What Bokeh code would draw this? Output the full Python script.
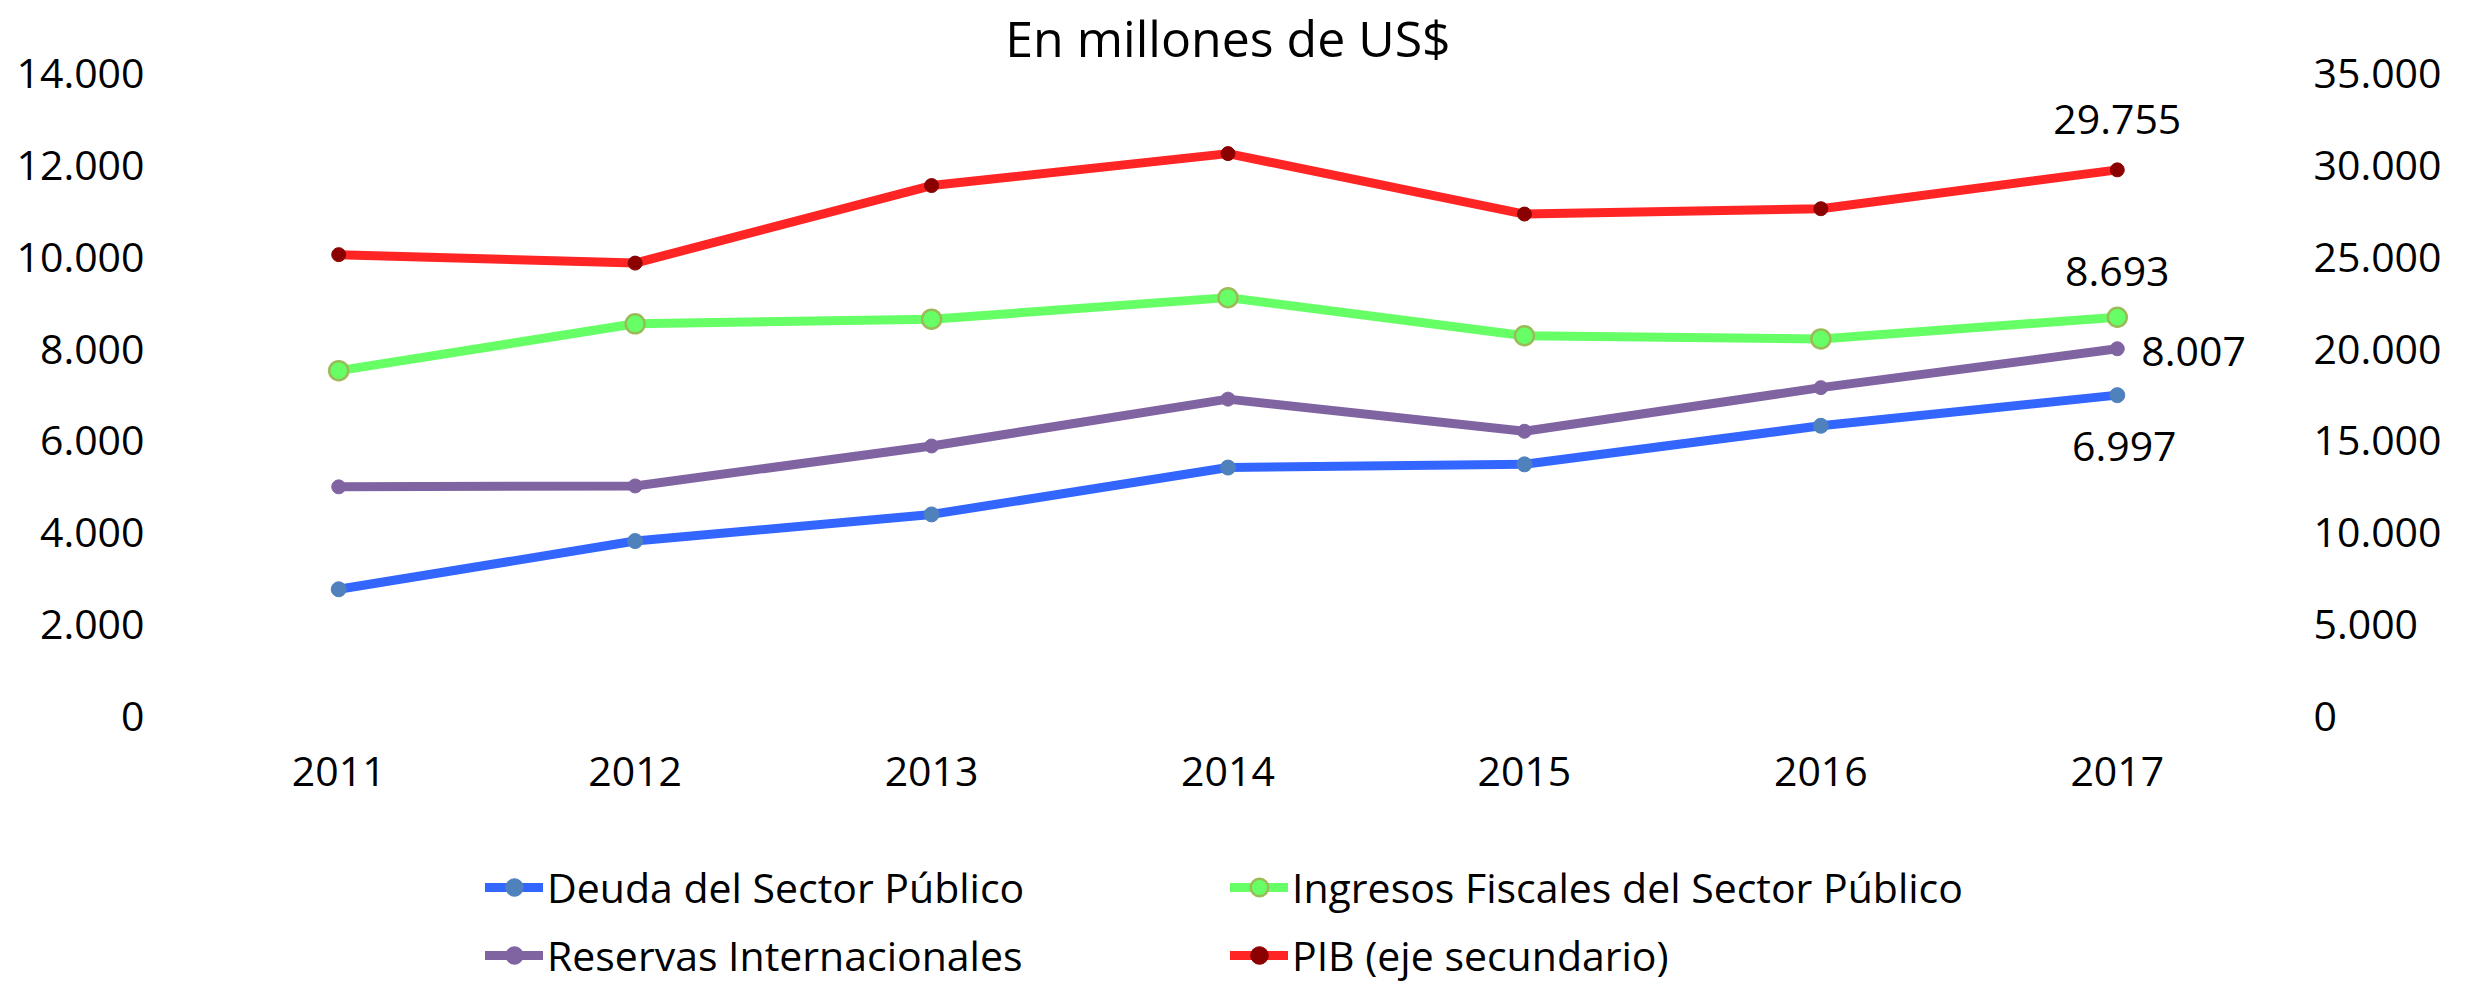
from bokeh.plotting import figure
from bokeh.layouts import column
from bokeh.models import (Range1d, LinearAxis, FixedTicker, CustomJSTickFormatter,
                          Legend, LegendItem, ColumnDataSource)
from bokeh.core.properties import value
from bokeh.embed import file_html
from bokeh.resources import INLINE

years = ["2011", "2012", "2013", "2014", "2015", "2016", "2017"]
deuda = [2770, 3820, 4400, 5420, 5490, 6330, 6997]
ingresos = [7530, 8550, 8650, 9120, 8290, 8220, 8693]
reservas = [5000, 5020, 5890, 6910, 6210, 7160, 8007]
pib = [25140, 24680, 28900, 30640, 27350, 27640, 29755]
left_ticks = [0, 2000, 4000, 6000, 8000, 10000, 12000, 14000]
right_ticks = [0, 5000, 10000, 15000, 20000, 25000, 30000, 35000]
names = ["Deuda del Sector Público", "Ingresos Fiscales del Sector Público",
         "Reservas Internacionales", "PIB (eje secundario)"]
title_text = "En millones de US$"

FONT = "Open Sans"
FS = "41px"
W = 2468
H1 = 830
H2 = 984 - H1

p = figure(x_range=years, y_range=Range1d(0, 14000), width=W, height=H1,
           output_backend="svg", toolbar_location=None,
           min_border_left=190, min_border_right=203, min_border_top=73,
           min_border_bottom=H1 - 716)
p.extra_y_ranges = {"y2": Range1d(0, 35000)}
p.outline_line_color = None
p.xgrid.grid_line_color = None
p.ygrid.grid_line_color = None
p.x_range.range_padding = 0

p.title.text = title_text
p.title.align = "center"
p.title.text_font = FONT
p.title.text_font_size = "50px"
p.title.text_font_style = "normal"
p.title.text_color = "black"
p.title.standoff = 3

fmt = CustomJSTickFormatter(code="return tick.toFixed(0).replace(/\\B(?=(\\d{3})+(?!\\d))/g, '.');")

p.yaxis[0].ticker = FixedTicker(ticks=left_ticks)
p.yaxis[0].formatter = fmt
p.yaxis[0].major_label_standoff = 46

ax2 = LinearAxis(y_range_name="y2", ticker=FixedTicker(ticks=right_ticks), formatter=fmt,
                 major_label_standoff=48)
p.add_layout(ax2, "right")

for ax in [p.xaxis[0], p.yaxis[0], ax2]:
    ax.axis_line_color = None
    ax.major_tick_line_color = None
    ax.minor_tick_line_color = None
    ax.major_tick_in = 0
    ax.major_tick_out = 0
    ax.minor_tick_in = 0
    ax.minor_tick_out = 0
    ax.major_label_text_font = FONT
    ax.major_label_text_font_size = FS
    ax.major_label_text_color = "black"
p.xaxis.major_label_standoff = 40

src = ColumnDataSource(dict(x=years, deuda=deuda, ingresos=ingresos, reservas=reservas, pib=pib))

LW = 9
styles = {
    "pib": dict(line="#ff2525", fill="#8b0000", outline="#8b0000", size=14, olw=1),
    "ingresos": dict(line="#66ff66", fill="#66ff66", outline="#9bbb59", size=19, olw=2.5),
    "reservas": dict(line="#8064a2", fill="#8064a2", outline="#8064a2", size=14, olw=1),
    "deuda": dict(line="#3366ff", fill="#4f81bd", outline="#4f81bd", size=15, olw=1),
}

for key in ["pib", "ingresos", "reservas", "deuda"]:
    st = styles[key]
    rng = "y2" if key == "pib" else "default"
    p.line("x", key, source=src, y_range_name=rng, line_color=st["line"], line_width=LW,
           line_join="round", line_cap="round")
    p.scatter("x", key, source=src, y_range_name=rng, size=st["size"], fill_color=st["fill"],
              line_color=st["outline"], line_width=st["olw"])

def th(v):
    return f"{v:,}".replace(",", ".")

def add_lab(series, align, dx, dy, rng="default"):
    s = ColumnDataSource(dict(x=[years[-1]], y=[series[-1]], t=[th(series[-1])]))
    p.text("x", "y", text="t", source=s, y_range_name=rng, x_offset=dx, y_offset=dy,
           text_align=align, text_baseline="middle", text_font=value(FONT),
           text_font_size=FS, text_color="black")

add_lab(pib, "center", 0, -50, "y2")
add_lab(ingresos, "center", 0, -46)
add_lab(reservas, "left", 24, 3)
add_lab(deuda, "center", 7, 51)

# legend figure
p2 = figure(width=W, height=H2, x_range=Range1d(0, 1), y_range=Range1d(0, 1),
            output_backend="svg", toolbar_location=None, min_border=0,
            min_border_left=0, min_border_right=0, min_border_top=0, min_border_bottom=0)
p2.axis.visible = False
p2.grid.visible = False
p2.outline_line_color = None

leg_keys = ["deuda", "ingresos", "reservas", "pib"]
X0 = 190  # legend figure frame is aligned with the chart frame
locs = [(485 - X0, H2 - 63), (1230 - X0, H2 - 63), (485 - X0, H2 - 131), (1230 - X0, H2 - 131)]
LH = 44
for name, key, (lx, ly) in zip(names, leg_keys, locs):
    st = styles[key]
    rl = p2.line([5, 6], [5, 6], line_color=st["line"], line_width=LW, line_cap="round")
    rm = p2.scatter([5], [5], size=st["size"], fill_color=st["fill"],
                    line_color=st["outline"], line_width=st["olw"])
    lg = Legend(items=[LegendItem(label=name, renderers=[rl, rm])], location=(lx, ly - LH // 2),
                padding=0, margin=0, border_line_color=None, background_fill_alpha=0,
                glyph_width=58, glyph_height=LH, label_height=LH, label_standoff=4,
                label_text_font=FONT, label_text_font_size=FS, label_text_color="black",
                label_text_baseline="middle")
    p2.add_layout(lg, "center")

layout = column(p, p2, spacing=0)
open("out.html", "w").write(file_html(layout, INLINE))
